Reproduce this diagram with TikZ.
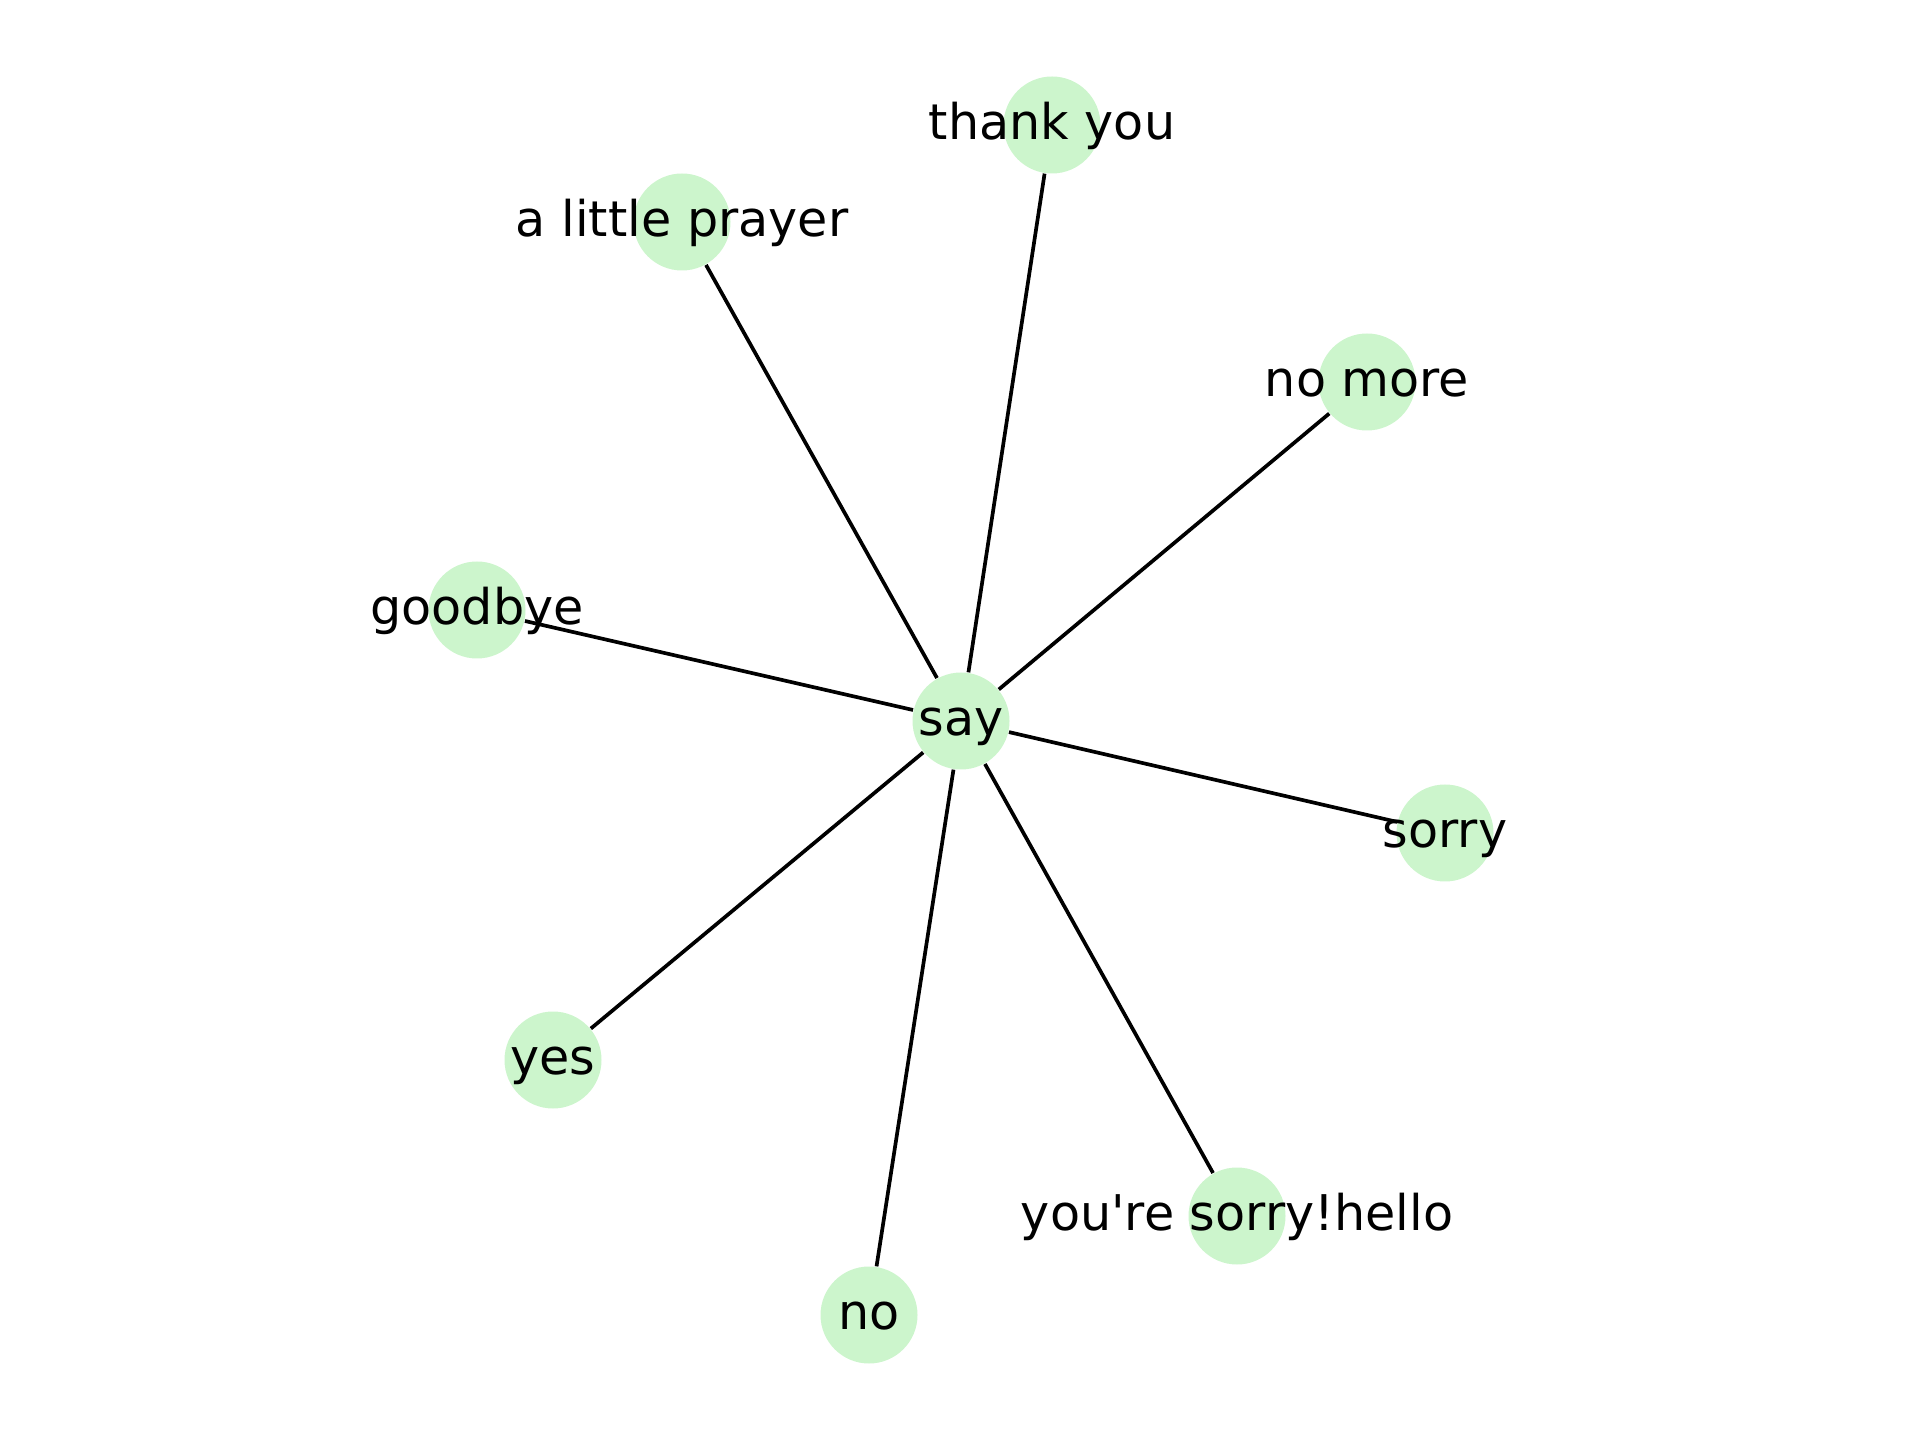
\documentclass[tikz,border=0pt]{standalone}
\usepackage{fontspec}
\setmainfont{DejaVu Sans}
\usetikzlibrary{backgrounds}
\definecolor{nodegreen}{HTML}{CCF5CC}
\begin{document}
\begin{tikzpicture}[word/.style={circle,fill=nodegreen,minimum size=0.97cm,inner sep=0pt,
    label={[font=\fontsize{14}{17}\selectfont,text height=0.286cm,text depth=0pt]center:#1}},
  link/.style={line width=1.05pt,black}]
  \useasboundingbox (0,0) rectangle (19.2,14.4);
  \node[word=say] (say) at (9.61,7.19) {};
  \node[word=thank you] (thankyou) at (10.52,13.15) {};
  \node[word=a little prayer] (prayer) at (6.82,12.18) {};
  \node[word=no more] (nomore) at (13.67,10.58) {};
  \node[word=goodbye] (goodbye) at (4.77,8.30) {};
  \node[word=sorry] (sorry) at (14.45,6.07) {};
  \node[word=yes] (yes) at (5.53,3.80) {};
  \node[word=you\textquotesingle re sorry!hello] (hello) at (12.37,2.24) {};
  \node[word=no] (no) at (8.69,1.25) {};
  \begin{pgfonlayer}{background}
    \foreach \w in {thankyou,prayer,nomore,goodbye,sorry,yes,hello,no}
      \draw[link] (say) -- (\w);
  \end{pgfonlayer}
\end{tikzpicture}
\end{document}
